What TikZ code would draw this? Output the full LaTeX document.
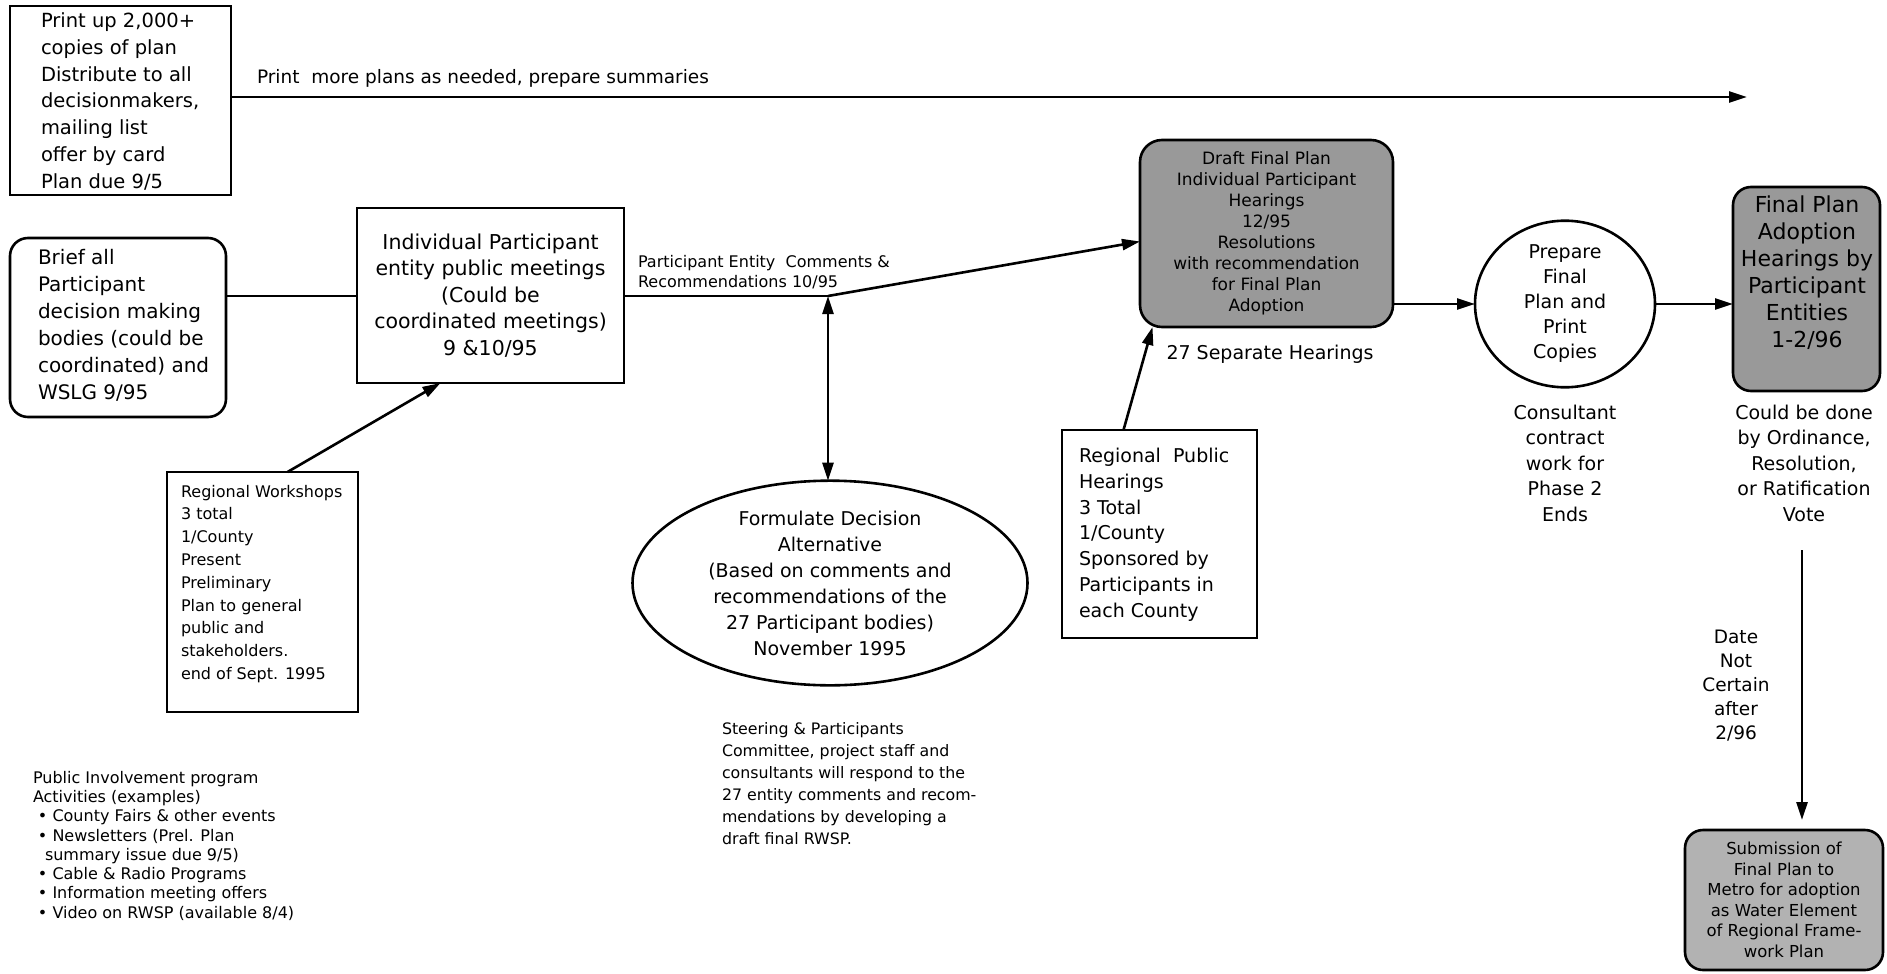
\documentclass[tikz,border=0pt]{standalone}
\usepackage{fontspec}
\setmainfont{DejaVu Sans}
\usetikzlibrary{arrows.meta,shapes.geometric}
\newcommand\setfs[2]{\fontsize{#1}{#2}\selectfont}
\begin{document}
\begin{tikzpicture}[x=1pt,y=-1pt,
  every node/.style={inner sep=0pt, outer sep=0pt},
  ln/.style={line width=2.6pt},
  arr/.style={ln, -{Triangle[length=18pt,width=11pt]}},
  darr/.style={ln, {Triangle[length=18pt,width=11pt]}-{Triangle[length=18pt,width=11pt]}},
  sqbox/.style={draw, line width=2.6pt, rectangle},
  rbox/.style={draw, line width=2.6pt, rectangle, rounded corners=18pt},
  dark/.style={fill=black!40},
  light/.style={fill=black!30},
  lt/.style={align=left},
  ct/.style={align=center},
]
\useasboundingbox (0,0) rectangle (1887,974);
\fill[white] (0,0) rectangle (1887,974);

% top-left box
\node[sqbox, minimum width=221pt, minimum height=189pt] (plan) at (120.5,100.5) {};
\node[lt, anchor=north west, font={\setfs{19.5}{26.7}}] (plantxt) at (41,13)
  {Print up 2,000+\\copies of plan\\Distribute to all\\decisionmakers,\\mailing list\\offer by card\\Plan due 9/5};
\coordinate (topend) at (1747,97);
\draw[arr] (plan.east |- topend) -- (topend);
\node[anchor=base west, font={\setfs{18.5}{24}}] (toplbl) at (257,83) {Print\ \ more plans as needed, prepare summaries};

% brief box
\node[rbox, minimum width=216pt, minimum height=179pt] (brief) at (118,327.5) {};
\node[lt, anchor=north west, font={\setfs{20}{27}}] (brieftxt) at (38,249)
  {Brief all\\Participant\\decision making\\bodies (could be\\coordinated) and\\WSLG 9/95};

% individual participant box
\node[sqbox, ct, minimum width=267pt, minimum height=175pt, font={\setfs{20.5}{26.5}}] (ind) at (490.5,295.5)
  {Individual Participant\\entity public meetings\\(Could be\\coordinated meetings)\\9 \&10/95};

\coordinate (J) at (828,296);
\draw[ln] (brief.east |- J) -- (ind.west |- J);
\draw[ln] (ind.east |- J) -- (J);

\node[lt, anchor=south west, font={\setfs{16}{20.5}}] (pelbl) at (638,289)
  {Participant Entity\ \ Comments \&\\Recommendations 10/95};

% draft final plan box
\node[rbox, dark, ct, rounded corners=22pt, minimum width=253pt, minimum height=187pt, font={\setfs{17}{21}}] (draft) at (1266.5,233.5)
  {Draft Final Plan\\Individual Participant\\Hearings\\12/95\\Resolutions\\with recommendation\\for Final Plan\\Adoption};
\draw[arr] (J) -- ([yshift=-8pt]draft.west);
\node[font={\setfs{19}{24}}] (sep) at (1270,354) {27 Separate Hearings};

% formulate ellipse
\node[ellipse, draw, line width=2.6pt, ct, minimum width=395pt, minimum height=194pt, font={\setfs{19}{26}}] (form) at (830,583)
  {Formulate Decision\\Alternative\\(Based on comments and\\recommendations of the\\27 Participant bodies)\\November 1995};
\draw[darr] (J) -- (J |- form.north);

% regional workshops
\node[sqbox, minimum width=191pt, minimum height=240pt] (rw) at (262.5,592) {};
\node[lt, anchor=north west, font={\setfs{16}{22.8}}] (rwtxt) at (181,485)
  {Regional Workshops\\3 total\\1/County\\Present\\Preliminary\\Plan to general\\public and\\stakeholders.\\end of Sept. 1995};
\draw[arr] ([xshift=25pt]rw.north) -- ([xshift=-50pt]ind.south);

% public involvement list
\node[lt, anchor=north west, font={\setfs{16}{19.3}}] (pub) at (33,771)
  {Public Involvement program\\Activities (examples)\\
   \hspace*{5pt}\textbullet\ County Fairs \& other events\\
   \hspace*{5pt}\textbullet\ Newsletters (Prel. Plan\\
   \hspace*{12pt}summary issue due 9/5)\\
   \hspace*{5pt}\textbullet\ Cable \& Radio Programs\\
   \hspace*{5pt}\textbullet\ Information meeting offers\\
   \hspace*{5pt}\textbullet\ Video on RWSP (available 8/4)};

% steering note
\node[lt, anchor=north west, font={\setfs{15.8}{22}}] (steer) at (722,722)
  {Steering \& Participants\\Committee, project staff and\\consultants will respond to the\\27 entity comments and recom-\\mendations by developing a\\draft final RWSP.};

% regional public hearings
\node[sqbox, minimum width=195pt, minimum height=208pt] (rph) at (1159.5,534) {};
\node[lt, anchor=north west, font={\setfs{19}{25.8}}] (rphtxt) at (1079,448)
  {Regional\ \ Public\\Hearings\\3 Total\\1/County\\Sponsored by\\Participants in\\each County};
\draw[arr] ([xshift=-36pt]rph.north) -- ([xshift=-114pt]draft.south);

% prepare final plan circle
\node[ellipse, draw, line width=2.6pt, ct, minimum width=180pt, minimum height=160pt, font={\setfs{19}{25}}] (prep) at (1565,304)
  {Prepare\\Final\\Plan and\\Print\\Copies};
\draw[arr] (draft.east |- prep.west) -- (prep.west);
\node[ct, font={\setfs{19}{25.5}}] (cons) at (1565,463)
  {Consultant\\contract\\work for\\Phase 2\\Ends};

% final plan adoption box
\node[rbox, dark, minimum width=147pt, minimum height=204pt] (final) at (1806.5,289) {};
\node[ct, font={\setfs{22}{27}}] (finaltxt) at (1807,273)
  {Final Plan\\Adoption\\Hearings by\\Participant\\Entities\\1-2/96};
\draw[arr] (prep.east) -- (prep.east -| final.west);
\node[ct, font={\setfs{19}{25.5}}] (could) at (1804,463)
  {Could be done\\by Ordinance,\\Resolution,\\or Ratification\\Vote};

% submission box
\node[rbox, light, ct, minimum width=198pt, minimum height=140pt, font={\setfs{16.5}{20.5}}] (sub) at (1784,900)
  {Submission of\\Final Plan to\\Metro for adoption\\as Water Element\\of Regional Frame-\\work Plan};
\coordinate (vtop) at (1802,550);
\draw[arr, shorten >=10pt] (vtop) -- (vtop |- sub.north);
\node[ct, font={\setfs{18.5}{24}}] (date) at (1736,686)
  {Date\\Not\\Certain\\after\\2/96};
\end{tikzpicture}
\end{document}
